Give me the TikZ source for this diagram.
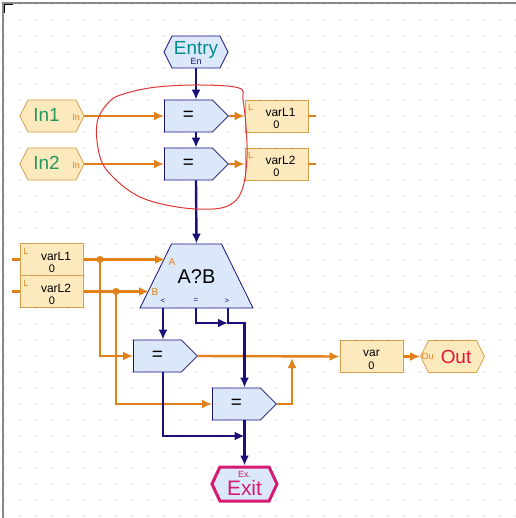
\documentclass[tikz,border=0pt]{standalone}
\usepackage{fontspec}
\setmainfont{Liberation Sans}
\usetikzlibrary{arrows.meta, shapes.geometric, shapes.symbols, positioning}
\definecolor{flownavy}{RGB}{28,16,120}
\definecolor{dataorange}{RGB}{226,128,26}
\definecolor{eqfill}{RGB}{219,232,249}
\definecolor{varfill}{RGB}{252,233,190}
\definecolor{varedge}{RGB}{214,160,72}
\definecolor{ingreen}{RGB}{36,150,96}
\definecolor{entryteal}{RGB}{0,140,140}
\definecolor{exitpink}{RGB}{214,26,112}
\definecolor{outred}{RGB}{226,20,52}
\definecolor{gridgrey}{RGB}{160,160,160}
\definecolor{framegrey}{RGB}{135,135,135}
\definecolor{loopred}{RGB}{222,52,52}
\tikzset{>={Latex[length=10bp,width=9bp]}}
\tikzset{
  flow/.style={draw=flownavy, line width=2.4bp, ->},
  data/.style={draw=dataorange, line width=2.4bp, ->},
  wire/.style={draw=dataorange, line width=2.4bp},
  hexport/.style={signal, signal to=west and east, signal pointer angle=127,
    minimum width=64bp, minimum height=32bp, inner sep=0pt, line width=0.8bp},
  entryhex/.style={hexport, draw=flownavy, fill=eqfill},
  inhex/.style={hexport, draw=varedge, fill=varfill},
  exithex/.style={hexport, draw=exitpink, fill=eqfill, line width=3bp,
    minimum width=65bp, minimum height=34bp, signal pointer angle=130},
  eqbox/.style={signal, signal to=east, signal from=nowhere, signal pointer angle=90,
    draw=flownavy, fill=eqfill, line width=0.8bp, minimum width=64bp,
    minimum height=32bp, inner sep=0pt, font=\fontsize{19}{19}\selectfont},
  varbox/.style={rectangle, draw=varedge, fill=varfill, line width=0.8bp,
    minimum width=63bp, minimum height=32bp, inner sep=0pt},
  cmpbox/.style={trapezium, trapezium angle=63.8, text width=38bp, align=center,
    text height=14bp, text depth=0bp, inner xsep=6bp, inner ysep=25bp,
    draw=flownavy, fill=eqfill, line width=0.8bp, font=\fontsize{20}{20}\selectfont},
  bigtxt/.style={font=\fontsize{19}{19}\selectfont, inner sep=0pt},
  tagtxt/.style={font=\fontsize{9}{9}\selectfont, inner sep=0pt},
  varname/.style={font=\fontsize{12}{12}\selectfont, inner sep=0pt, yshift=3.3bp},
  varval/.style={font=\fontsize{11}{11}\selectfont, inner sep=0pt, yshift=-9bp},
  ltag/.style={font=\fontsize{9}{9}\selectfont, inner sep=0pt, text=dataorange,
    xshift=-26bp, yshift=8.5bp},
  porttag/.style={font=\fontsize{8}{8}\selectfont, inner sep=0pt, text=flownavy},
  split/.style={fill=dataorange}
}
\begin{document}
\begin{tikzpicture}[x=1bp, y=-1bp]
\useasboundingbox (0,0) rectangle (516,518);
% grid of the editor
\foreach \gx in {4,20,...,516}
  \foreach \gy in {4,20,...,516}
    \fill[gridgrey] (\gx,\gy) circle (0.6bp);
\draw[framegrey, line width=2bp] (3,518) -- (3,3) -- (516,3);
\draw[line width=1.5bp] (4.5,13) -- (4.5,4.5) -- (13,4.5);

% entry and inputs
\node[entryhex, label={[bigtxt, text=entryteal, yshift=2.5bp]center:Entry},
  label={[tagtxt, text=flownavy, yshift=-9bp]center:En}] (entry) at (196,52) {};
\node[inhex, label={[bigtxt, text=ingreen, xshift=-5.5bp, yshift=1bp]center:In1},
  label={[tagtxt, text=dataorange, xshift=24bp, yshift=-1bp]center:In}] (in1) at (52,116) {};
\node[inhex, label={[bigtxt, text=ingreen, xshift=-5.5bp, yshift=1bp]center:In2},
  label={[tagtxt, text=dataorange, xshift=24bp, yshift=-1bp]center:In}] (in2) at (52,164) {};

% assignments
\node[eqbox, anchor=west] (eq1) at (164,116) {=};
\node[eqbox, anchor=west] (eq2) at (164,164) {=};
\node[eqbox, anchor=west] (eq3) at (133,356) {=};
\node[eqbox, anchor=west] (eq4) at (212,404) {=};

% variables
\node[varbox, label={[varname, xshift=4bp]center:varL1}, label={[varval]center:0},
  label={[ltag]center:L}] (vL1) at (276.5,116) {};
\node[varbox, label={[varname, xshift=4bp]center:varL2}, label={[varval]center:0},
  label={[ltag]center:L}] (vL2) at (276.5,164) {};
\node[varbox, label={[varname, xshift=4bp]center:varL1}, label={[varval]center:0},
  label={[ltag]center:L}] (vA) at (52,259.5) {};
\node[varbox, label={[varname, xshift=4bp]center:varL2}, label={[varval]center:0},
  label={[ltag]center:L}] (vB) at (52,291.5) {};
\node[varbox, label={[varname]center:var}, label={[varval]center:0}] (vOut) at (371.5,356.5) {};

% comparison
\node[cmpbox] (cmp) at (196.5,276) {A?B};
\node[porttag, text=dataorange, font=\fontsize{10}{10}\selectfont] (tagA) at (172,262) {A};
\node[porttag, text=dataorange, font=\fontsize{10}{10}\selectfont] (tagB) at (155,292) {B};
\node[porttag] (tagLt) at (163,301) {<};
\node[porttag] (tagEq) at (196,301) {=};
\node[porttag] (tagGt) at (227,301) {>};

% output and exit
\node[inhex, label={[bigtxt, text=outred, xshift=3.5bp]center:Out},
  label={[tagtxt, text=dataorange, xshift=-25bp]center:Ou}] (out) at (452.5,356.5) {};
\node[exithex, label={[font=\fontsize{21}{21}\selectfont, inner sep=0pt, text=exitpink, yshift=-4bp]center:Exit},
  label={[tagtxt, text=exitpink, yshift=9.5bp]center:Ex.}] (exit) at (244.5,484) {};

\coordinate (vL1stub) at (316,116);
\coordinate (vL2stub) at (316,164);
\coordinate (vAstub) at (12,259.5);
\coordinate (vBstub) at (12,291.5);
\coordinate (cmpA) at (165,259.5);
\coordinate (cmpB) at (149,291.5);
\coordinate (splitA) at (100,259.5);
\coordinate (splitB) at (116,291.5);
\coordinate (cmpLt) at (163,308);
\coordinate (cmpEq) at (196,308);
\coordinate (cmpGt) at (228,308);
\coordinate (gtJoin) at (228,323);
\coordinate (exitJoin) at (244.5,436);
\coordinate (mergeOut) at (292,358);

% data lines
\draw[data] (in1.east) -- (eq1.west);
\draw[data] (in2.east) -- (eq2.west);
\draw[data] (eq1.east) -- (vL1.west);
\draw[data] (eq2.east) -- (vL2.west);
\draw[wire] (vL1.east) -- (vL1stub);
\draw[wire] (vL2.east) -- (vL2stub);
\draw[wire] (vAstub) -- (vA.west);
\draw[wire] (vBstub) -- (vB.west);
\draw[data] (vA.east) -- (cmpA);
\draw[data] (vB.east) -- (cmpB);
\draw[data] (splitA) |- (eq3.west);
\draw[data] (splitB) |- (eq4.west);
\fill[split] (splitA) circle (3.5bp);
\fill[split] (splitB) circle (3.5bp);
\draw[data] (eq3.east) -- (vOut.west);
\draw[data] (eq4.east) -| (mergeOut);
\draw[data] (vOut.east) -- (out.west);

% control flow
\draw[flow] (entry.south) -- (entry.south |- eq1.north);
\draw[flow] (entry.south |- eq1.south) -- (entry.south |- eq2.north);
\draw[flow] (entry.south |- eq2.south) -- (cmp.north);
\draw[flow] (cmpLt) -- (cmpLt |- eq3.north);
\draw[flow] (cmpEq) |- (gtJoin);
\draw[flow] (cmpGt) -- (gtJoin) -| (exit.north |- eq4.north);
\draw[flow] (cmpLt |- eq3.south) |- (exitJoin);
\draw[flow] (exit.north |- eq4.south) -- (exit.north);

% hand drawn mark
\draw[loopred, line width=1bp] plot[smooth cycle, tension=0.6] coordinates {
  (239,88) (200,85) (157,87) (127,93) (110,101) (97,123) (100,157) (113,177)
  (140,197) (177,207) (213,209) (233,203) (243,187) (247,157) (246,127) (243,100)};
\end{tikzpicture}
\end{document}
